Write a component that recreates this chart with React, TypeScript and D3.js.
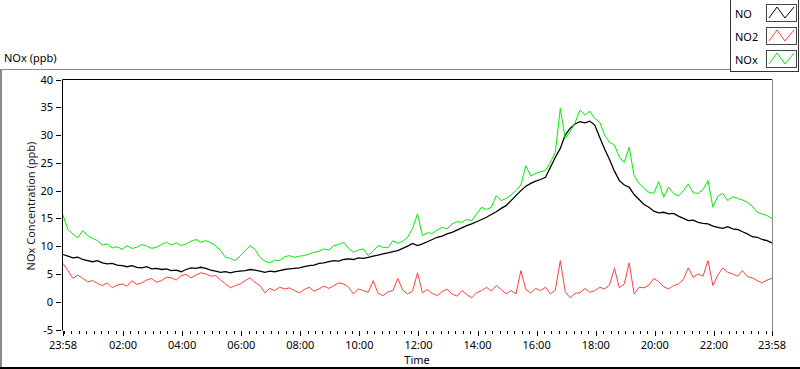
import * as d3 from "d3";
import { useEffect, useRef } from "react";

// one reading every 10 minutes, from 23:58 to 23:58 the next day
const noValues = [
  8.5, 8.2, 7.9, 8.0, 7.6, 7.4, 7.2, 7.4, 7.0, 6.8, 6.9, 6.6, 6.5, 6.3, 6.5, 6.2, 6.1, 6.3, 5.9, 6.0,
  5.8, 5.9, 5.6, 5.7, 5.4, 5.8, 6.1, 6.0, 6.2, 6.0, 5.7, 5.5, 5.3, 5.4, 5.2, 5.4, 5.5, 5.6, 5.8, 5.7,
  5.5, 5.3, 5.5, 5.4, 5.6, 5.8, 5.9, 6.0, 6.1, 6.3, 6.5, 6.6, 6.9, 7.0, 7.2, 7.4, 7.3, 7.6, 7.7, 7.6,
  7.9, 7.8, 8.0, 8.2, 8.4, 8.6, 8.8, 9.0, 9.2, 9.6, 10.0, 10.5, 10.1, 10.4, 10.8, 11.2, 11.6, 11.8, 12.2, 12.5,
  12.9, 13.3, 13.7, 14.0, 14.4, 14.8, 15.2, 15.7, 16.2, 16.8, 17.3, 18.2, 19.1, 20.0, 20.8, 21.3, 21.7, 22.0, 22.4, 24.2,
  26.0, 27.6, 30.0, 31.2, 32.0, 32.4, 32.2, 32.5, 31.8, 29.6, 27.5, 25.6, 23.5, 21.8, 21.0, 20.6, 19.3, 18.4, 17.5, 17.0,
  16.3, 16.0, 16.1, 15.8, 15.9, 15.4, 15.0, 14.6, 14.7, 14.3, 14.1, 14.0, 13.6, 13.4, 13.2, 13.5, 13.1, 13.0, 12.6, 12.2,
  11.7, 11.6, 11.2, 11.0, 10.6,
];

const no2Values = [
  6.9, 5.6, 4.2, 4.8, 4.2, 3.6, 3.8, 3.3, 2.9, 3.4, 2.5, 3.0, 3.2, 2.8, 3.8, 3.1, 3.4, 3.9, 4.2, 3.5,
  3.8, 4.4, 4.3, 3.9, 4.7, 4.9, 4.3, 4.8, 5.2, 5.0, 4.6, 4.7, 3.9, 3.2, 2.5, 2.9, 3.2, 3.8, 4.3, 3.5,
  2.9, 1.6, 2.4, 2.0, 2.6, 2.3, 2.5, 2.0, 1.6, 2.2, 2.6, 1.9, 2.3, 2.8, 2.4, 2.9, 3.4, 3.2, 2.6, 1.4,
  2.3, 2.0, 1.7, 3.8, 1.5, 1.1, 1.8, 2.0, 4.2, 2.1, 1.4, 1.9, 5.2, 1.6, 2.2, 1.5, 1.1, 1.8, 2.3, 1.4,
  1.0, 2.0, 1.3, 0.7, 1.6, 2.0, 2.6, 1.9, 2.9, 2.2, 1.4, 2.0, 1.4, 5.6, 2.2, 1.6, 2.4, 2.0, 2.6, 1.4,
  2.1, 7.4, 1.8, 0.7, 1.5, 1.6, 2.4, 1.7, 2.0, 2.6, 2.3, 3.0, 6.0, 2.5, 3.2, 7.0, 1.4, 2.6, 2.5, 3.0,
  4.2, 3.6, 2.7, 2.3, 2.9, 3.2, 4.0, 6.1, 4.4, 5.0, 4.6, 7.4, 2.9, 4.8, 6.1, 5.3, 5.0, 4.6, 5.6, 4.5,
  4.3, 3.8, 3.4, 3.9, 4.2,
];

const noxValues = [
  15.6, 13.0, 12.2, 11.5, 12.8, 11.9, 11.4, 11.0, 10.2, 10.4, 9.7, 9.9, 9.4, 10.1, 9.6, 9.8, 10.3, 10.0, 9.6, 9.8,
  10.3, 10.7, 10.2, 10.6, 10.1, 10.4, 10.9, 11.2, 10.7, 11.0, 10.6, 10.1, 9.2, 8.0, 7.8, 7.4, 8.3, 9.2, 10.1, 9.4,
  8.0, 7.3, 7.0, 7.5, 7.4, 8.1, 8.3, 8.0, 8.2, 8.3, 8.6, 8.9, 9.1, 9.5, 9.3, 10.1, 10.3, 10.7, 9.6, 8.9,
  9.3, 9.5, 8.3, 9.2, 10.1, 9.8, 9.7, 11.0, 10.5, 10.9, 11.6, 13.2, 15.8, 11.9, 12.4, 12.3, 12.9, 13.4, 13.1, 14.0,
  14.4, 14.3, 14.8, 14.6, 15.8, 17.0, 16.6, 17.0, 19.1, 18.2, 18.6, 19.2, 20.0, 21.0, 24.5, 22.6, 23.1, 23.4, 23.6, 25.1,
  26.9, 34.8, 29.4, 30.6, 32.2, 34.5, 33.6, 34.3, 33.0, 32.3, 30.0, 28.7, 28.2, 26.0, 25.1, 27.8, 22.6, 21.3, 20.4, 19.7,
  19.5, 21.6, 18.8, 20.6, 19.5, 19.0, 20.0, 21.2, 19.6, 19.5, 20.2, 21.8, 17.0, 19.0, 19.5, 18.2, 18.9, 18.6, 18.3, 17.9,
  17.2, 16.1, 15.8, 15.5, 15.0,
];

const seriesNames = ["NO", "NO2", "NOx"];
const seriesColors = ["#000000", "#ff4040", "#00ee00"];

const yTicks = [-5, 0, 5, 10, 15, 20, 25, 30, 35, 40];
// minutes after 23:58
const xTickMinutes = [0, 122, 242, 362, 482, 602, 722, 842, 962, 1082, 1202, 1322, 1440];
const xTickLabels = ["23:58", "02:00", "04:00", "06:00", "08:00", "10:00", "12:00", "14:00", "16:00", "18:00", "20:00", "22:00", "23:58"];

const FONT = "'Noto Sans', sans-serif";

const NoxChart = () => {
  const svgRef = useRef(null);

  useEffect(() => {
    const width = 800;
    const height = 369;
    const plot = { left: 63, right: 772, top: 79.5, bottom: 329.5 };
    const svg = d3.select(svgRef.current);
    svg.selectAll("*").remove();
    svg.attr("width", width).attr("height", height);

    svg.append("rect").attr("width", width).attr("height", height).attr("fill", "#fff");

    // outer panel frame
    svg.append("line").attr("x1", 0).attr("x2", 731).attr("y1", 69.5).attr("y2", 69.5).attr("stroke", "#8a8a8a");
    svg.append("rect").attr("x", 0).attr("y", 69).attr("width", 2).attr("height", 300).attr("fill", "#8a8a8a");
    svg.append("rect").attr("x", 0).attr("y", 367).attr("width", width).attr("height", 2).attr("fill", "#000");

    const xScale = d3.scaleLinear().domain([0, 1440]).range([plot.left, plot.right]);
    const yScale = d3.scaleLinear().domain([-5, 40]).range([plot.bottom, plot.top]);

    const series = [noValues, no2Values, noxValues].map((vals) =>
      vals.map((v, i) => ({ t: i * 10, v }))
    );

    const line = d3
      .line()
      .x((d) => xScale(d.t))
      .y((d) => yScale(d.v));

    series.forEach((s, i) => {
      svg
        .append("path")
        .attr("d", line(s))
        .attr("fill", "none")
        .attr("stroke", seriesColors[i])
        .attr("stroke-width", i === 0 ? 1.3 : 1);
    });

    // plot frame: dark top/left, grey right
    svg.append("line").attr("x1", plot.left - 0.5).attr("x2", plot.right).attr("y1", plot.top).attr("y2", plot.top).attr("stroke", "#000");
    svg.append("line").attr("x1", plot.left - 0.5).attr("x2", plot.left - 0.5).attr("y1", plot.top).attr("y2", plot.bottom + 1).attr("stroke", "#000");
    svg.append("line").attr("x1", plot.right + 0.5).attr("x2", plot.right + 0.5).attr("y1", plot.top).attr("y2", plot.bottom + 1).attr("stroke", "#8a8a8a");

    // y axis
    const yAxis = svg.append("g");
    yAxis
      .selectAll("line")
      .data(yTicks)
      .enter()
      .append("line")
      .attr("x1", 56)
      .attr("x2", 61)
      .attr("y1", (d) => Math.round(yScale(d)) + 0.5)
      .attr("y2", (d) => Math.round(yScale(d)) + 0.5)
      .attr("stroke", "#000");
    yAxis
      .selectAll("text")
      .data(yTicks)
      .enter()
      .append("text")
      .attr("x", 53)
      .attr("y", (d) => yScale(d) + 4)
      .attr("text-anchor", "end")
      .attr("font-family", FONT)
      .attr("font-size", 11)
      .attr("fill", "#000")
      .text((d) => d);

    // x axis ticks: minor every 15 min from 00:00
    const minor = d3.range(2, 1440, 15);
    svg
      .append("g")
      .selectAll("line")
      .data(minor)
      .enter()
      .append("line")
      .attr("x1", (d) => Math.round(xScale(d)) + 0.5)
      .attr("x2", (d) => Math.round(xScale(d)) + 0.5)
      .attr("y1", 331)
      .attr("y2", 334)
      .attr("stroke", "#000");
    svg
      .append("g")
      .selectAll("line")
      .data(xTickMinutes)
      .enter()
      .append("line")
      .attr("x1", (d) => Math.round(xScale(d)) + 0.5)
      .attr("x2", (d) => Math.round(xScale(d)) + 0.5)
      .attr("y1", 331)
      .attr("y2", 336)
      .attr("stroke", "#000");
    svg
      .append("g")
      .selectAll("text")
      .data(xTickLabels)
      .enter()
      .append("text")
      .attr("x", (d, i) => xScale(xTickMinutes[i]))
      .attr("y", 349)
      .attr("text-anchor", "middle")
      .attr("font-family", FONT)
      .attr("font-size", 11)
      .attr("fill", "#000")
      .text((d) => d);

    // axis titles
    svg
      .append("text")
      .attr("x", 417)
      .attr("y", 364)
      .attr("text-anchor", "middle")
      .attr("font-family", FONT)
      .attr("font-size", 11)
      .attr("fill", "#000")
      .text("Time");
    svg
      .append("text")
      .attr("transform", "translate(35,206) rotate(-90)")
      .attr("text-anchor", "middle")
      .attr("font-family", FONT)
      .attr("font-size", 11)
      .attr("fill", "#1a1a1a")
      .text("NOx Concentration (ppb)");
    svg
      .append("text")
      .attr("x", 4)
      .attr("y", 62)
      .attr("font-family", FONT)
      .attr("font-size", 11)
      .attr("fill", "#000")
      .text("NOx (ppb)");

    // legend
    const legend = svg.append("g");
    legend
      .append("rect")
      .attr("x", 730.5)
      .attr("y", -1)
      .attr("width", 68)
      .attr("height", 72.5)
      .attr("fill", "#fff")
      .attr("stroke", "#333");
    seriesNames.forEach((name, i) => {
      const top = 4 + i * 23;
      legend
        .append("text")
        .attr("x", 735)
        .attr("y", top + 13.5)
        .attr("font-family", FONT)
        .attr("font-size", 11)
        .attr("fill", "#000")
        .text(name);
      legend
        .append("rect")
        .attr("x", 766.5)
        .attr("y", top + 0.5)
        .attr("width", 30)
        .attr("height", 17)
        .attr("fill", "#fff")
        .attr("stroke", "#444");
      legend
        .append("path")
        .attr("d", `M769,${top + 14} L777,${top + 3} L785,${top + 14} L794,${top + 3}`)
        .attr("fill", "none")
        .attr("stroke", seriesColors[i]);
    });
  }, []);

  return <svg ref={svgRef} style={{ position: "absolute", left: 0, top: 0 }}></svg>;
};

export default function App() {
  return <NoxChart />;
}
